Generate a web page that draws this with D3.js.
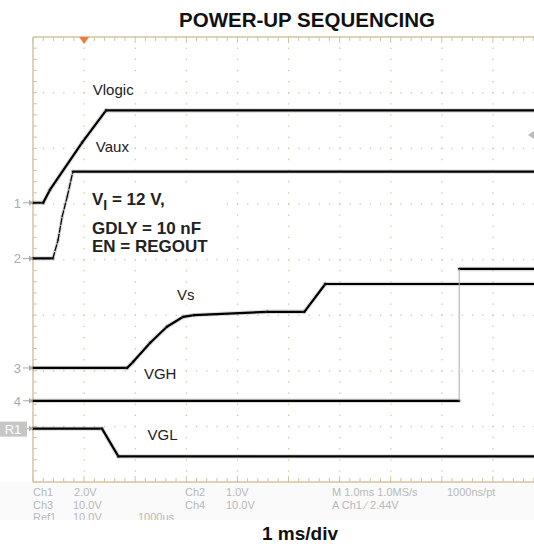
<!DOCTYPE html>
<html>
<head>
<meta charset="utf-8">
<script src="https://cdn.jsdelivr.net/npm/d3@7"></script>
<style>
  body { margin: 0; background: #fff; }
  text { font-family: "Liberation Sans", Arial, sans-serif; }
</style>
</head>
<body>
<div id="chart"></div>
<script>
// Tamaño del lienzo
var width = 534;
var height = 544;

// Trazas: [tiempo en ms desde el disparo, nivel en divisiones desde abajo]
var vlogic = [[-1.0, 5.02], [-0.80, 5.02], [-0.67, 5.25], [-0.04, 6.10], [0.43, 6.68], [9.0, 6.68]];
var vaux = [[-1.0, 4.02], [-0.61, 4.02], [-0.51, 4.35], [-0.43, 4.77], [-0.33, 5.13], [-0.22, 5.58], [9.0, 5.58]];
var vs = [[-1.0, 2.05], [0.84, 2.05], [0.96, 2.16], [1.29, 2.50], [1.62, 2.79], [1.94, 2.97], [2.15, 3.00], [3.58, 3.06], [4.31, 3.06], [4.72, 3.56], [9.0, 3.56]];
var vghLow = [[-1.0, 1.46], [7.34, 1.46]];
var vghHigh = [[7.34, 3.83], [9.0, 3.83]];
var vgl = [[-1.0, 0.96], [0.35, 0.96], [0.67, 0.46], [9.0, 0.46]];

// Marcadores de canal a la izquierda
var markers = [
  { name: "1", level: 5.02 },
  { name: "2", level: 4.02 },
  { name: "3", level: 2.05 },
  { name: "4", level: 1.46 },
  { name: "R1", level: 0.96 }
];

// Etiquetas de las trazas
var traceLabels = [
  { text: "Vlogic", t: 0.17, v: 6.96 },
  { text: "Vaux", t: 0.23, v: 5.93 },
  { text: "Vs", t: 1.82, v: 3.28 },
  { text: "VGH", t: 1.17, v: 1.85 },
  { text: "VGL", t: 1.24, v: 0.75 }
];

// Texto de estado del osciloscopio
var statusRows = [
  [["Ch1", 33], ["2.0V", 74], ["Ch2", 185], ["1.0V", 226], ["M 1.0ms 1.0MS/s", 332], ["1000ns/pt", 447]],
  [["Ch3", 33], ["10.0V", 73], ["Ch4", 185], ["10.0V", 226], ["A  Ch1  \u2215  2.44V", 332]],
  [["Ref1", 33], ["10.0V", 73], ["1000us", 138]]
];

var svg = d3.select("#chart").append("svg")
  .attr("width", width)
  .attr("height", height);

// Escalas: 10 divisiones de 1 ms, 8 divisiones verticales
var x = d3.scaleLinear().domain([-1, 9]).range([33, 544]);
var y = d3.scaleLinear().domain([0, 8]).range([482, 37]);

var tan = "#d3c4a0";

// Zona de estado con fondo gris claro
svg.append("rect")
  .attr("x", 0).attr("y", 482).attr("width", width).attr("height", 38)
  .attr("fill", "#fafafa");

var plot = svg.append("g");

// Rejilla punteada
var majorT = d3.range(0, 10);
var majorV = d3.range(1, 8);
majorV.forEach(function(v) {
  d3.range(-1, 9.01, 0.2).forEach(function(t) {
    plot.append("rect")
      .attr("x", x(t) - 0.5).attr("y", y(v) - 0.5)
      .attr("width", 1.3).attr("height", 1.3)
      .attr("fill", tan);
  });
});
majorT.forEach(function(t) {
  d3.range(0, 8.01, 0.2).forEach(function(v) {
    plot.append("rect")
      .attr("x", x(t) - 0.5).attr("y", y(v) - 0.5)
      .attr("width", 1.3).attr("height", 1.3)
      .attr("fill", tan);
  });
});

// Bordes
plot.append("line").attr("x1", x(-1)).attr("x2", width).attr("y1", y(8)).attr("y2", y(8))
  .attr("stroke", tan).attr("stroke-width", 1.5);
plot.append("line").attr("x1", x(-1)).attr("x2", width).attr("y1", y(0)).attr("y2", y(0))
  .attr("stroke", tan).attr("stroke-width", 1.5);
plot.append("line").attr("x1", x(-1)).attr("x2", x(-1)).attr("y1", y(8)).attr("y2", y(0))
  .attr("stroke", tan).attr("stroke-width", 1.5);

// Marcas de los bordes
d3.range(-1, 9.01, 0.2).forEach(function(t) {
  var major = Math.abs(t - Math.round(t)) < 0.01;
  var len = major ? 6 : 4;
  plot.append("line").attr("x1", x(t)).attr("x2", x(t))
    .attr("y1", y(8)).attr("y2", y(8) + len).attr("stroke", tan);
  plot.append("line").attr("x1", x(t)).attr("x2", x(t))
    .attr("y1", y(0)).attr("y2", y(0) - len).attr("stroke", tan);
});
d3.range(0, 8.01, 0.2).forEach(function(v) {
  plot.append("line").attr("x1", x(-1)).attr("x2", x(-1) + 4)
    .attr("y1", y(v)).attr("y2", y(v)).attr("stroke", tan);
});

// Indicador de disparo (triangulo naranja)
plot.append("path")
  .attr("d", "M" + (x(0) - 5) + "," + y(8) + "L" + (x(0) + 5) + "," + y(8) + "L" + x(0) + "," + (y(8) + 7) + "Z")
  .attr("fill", "#f07a3a");

// Flecha gris a la derecha
plot.append("path")
  .attr("d", "M" + (width - 6) + "," + 135 + "L" + width + "," + 131 + "L" + width + "," + 139 + "Z")
  .attr("fill", "#bbbbbb");

// Etiquetas con fondo blanco
function addLabel(g, str, px, py, size, weight) {
  var t = g.append("text")
    .attr("x", px).attr("y", py)
    .attr("font-size", size).attr("font-weight", weight)
    .attr("fill", "#222")
    .text(str);
  var b = t.node().getBBox();
  g.insert("rect", function() { return t.node(); })
    .attr("x", b.x - 4).attr("y", b.y - 2)
    .attr("width", b.width + 8).attr("height", b.height + 4)
    .attr("fill", "#fff");
  return t;
}

var labels = svg.append("g");
traceLabels.forEach(function(d) {
  addLabel(labels, d.text, x(d.t), y(d.v), 15, "normal");
});

// Caja de condiciones
var note = svg.append("g");
note.append("rect").attr("x", 86).attr("y", 188).attr("width", 136).attr("height", 70).attr("fill", "#fff");
var l1 = note.append("text").attr("x", 92).attr("y", 205)
  .attr("font-size", 17).attr("font-weight", "bold").attr("fill", "#222");
l1.append("tspan").text("V");
l1.append("tspan").attr("dy", 5).attr("font-size", 14).text("I");
l1.append("tspan").attr("dy", -5).text(" = 12 V,");
note.append("text").attr("x", 92).attr("y", 234)
  .attr("font-size", 17).attr("font-weight", "bold").attr("fill", "#222").text("GDLY = 10 nF");
note.append("text").attr("x", 92).attr("y", 252)
  .attr("font-size", 17).attr("font-weight", "bold").attr("fill", "#222").text("EN = REGOUT");

// Trazas: tramos planos gruesos, flancos rapidos mas finos
var line = d3.line().x(function(d) { return x(d[0]); }).y(function(d) { return y(d[1]); });
var traces = svg.append("g");
function drawTrace(d) {
  for (var i = 0; i < d.length - 1; i++) {
    var seg = [d[i], d[i + 1]];
    var slope = Math.abs((d[i + 1][1] - d[i][1]) / (d[i + 1][0] - d[i][0]));
    var w = slope > 3 ? 1.3 : 2.2;
    traces.append("path").attr("d", line(seg))
      .attr("fill", "none").attr("stroke", "#888").attr("stroke-opacity", 0.3)
      .attr("stroke-width", w + 2.2).attr("stroke-linecap", "round");
    traces.append("path").attr("d", line(seg))
      .attr("fill", "none").attr("stroke", "#000").attr("stroke-width", w)
      .attr("stroke-linecap", "round")
      .attr("stroke-dasharray", slope > 3 && d === vaux ? "6,2" : null);
  }
}
[vlogic, vaux, vs, vghLow, vghHigh, vgl].forEach(drawTrace);
// Salto vertical de VGH en gris
traces.append("path").attr("d", line([vghLow[1], vghHigh[0]]))
  .attr("fill", "none").attr("stroke", "#aaa").attr("stroke-width", 1);

// Marcadores de canal
var mk = svg.append("g");
markers.forEach(function(d) {
  var yy = y(d.level);
  if (d.name === "R1") {
    mk.append("rect").attr("x", 0).attr("y", yy - 7).attr("width", 27).attr("height", 15).attr("fill", "#c6c6c6");
    mk.append("text").attr("x", 13).attr("y", yy + 5).attr("text-anchor", "middle")
      .attr("font-size", 13).attr("fill", "#fff").text("R1");
  } else {
    mk.append("text").attr("x", 21).attr("y", yy + 5).attr("text-anchor", "end")
      .attr("font-size", 13).attr("fill", "#aaa").text(d.name);
  }
  mk.append("line").attr("x1", d.name === "R1" ? 27 : 23).attr("x2", 33).attr("y1", yy).attr("y2", yy)
    .attr("stroke", "#aaa");
  mk.append("path").attr("d", "M33," + yy + "l-4,-3v6z").attr("fill", "#aaa");
});

// Texto de estado
var st = svg.append("g");
statusRows.forEach(function(row, i) {
  row.forEach(function(c) {
    st.append("text").attr("x", c[1]).attr("y", 496 + i * 12.5)
      .attr("font-size", 11).attr("fill", "#b8b8b8").text(c[0]);
  });
});
svg.append("rect").attr("x", 0).attr("y", 520).attr("width", width).attr("height", 24).attr("fill", "#fff");

// Titulos
svg.append("text").attr("x", 307).attr("y", 27).attr("text-anchor", "middle")
  .attr("font-size", 20.5).attr("font-weight", "bold").attr("fill", "#111")
  .text("POWER-UP SEQUENCING");
svg.append("text").attr("x", 300).attr("y", 540).attr("text-anchor", "middle")
  .attr("font-size", 19).attr("font-weight", "bold").attr("fill", "#111")
  .text("1 ms/div");
</script>
</body>
</html>
